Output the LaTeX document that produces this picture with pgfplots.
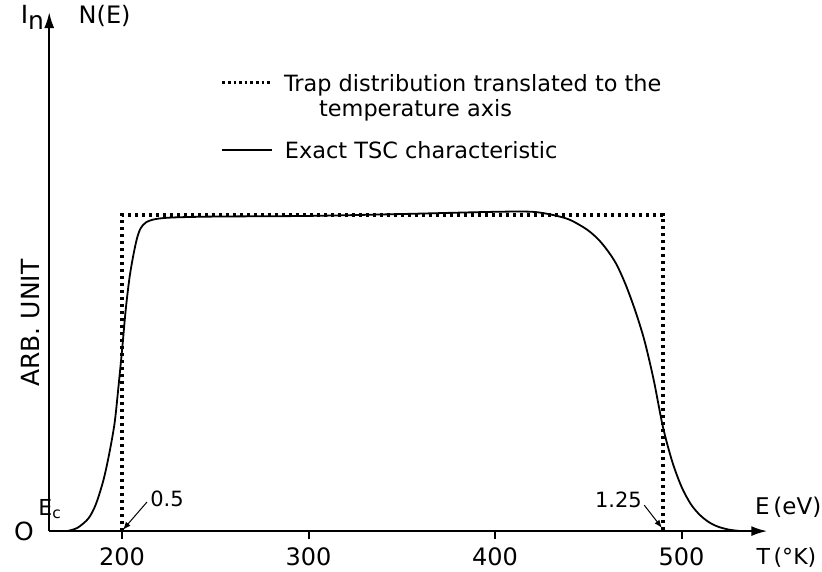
\documentclass[border=0pt]{standalone}
\usepackage{fontspec}
\setmainfont{DejaVu Sans}
\usepackage{pgfplots}
\pgfplotsset{compat=1.18}
\usetikzlibrary{arrows.meta}

\begin{document}
\begin{tikzpicture}
\begin{axis}[
    scale only axis,
    width=359pt,
    height=259.5pt,
    xmin=161, xmax=546,
    ymin=0, ymax=1.642,
    axis lines=left,
    axis line style={line width=1.1pt, -{Latex[length=8pt,width=5pt]}},
    xtick={200,300,400,500},
    ytick=\empty,
    tick align=outside,
    major tick length=4pt,
    tick style={line width=1pt, black},
    xticklabel style={font=\fontsize{12}{14}\selectfont, yshift=-1pt, overlay},
    /pgf/number format/assume math mode=true,
    clip=false,
]

% trap distribution (dotted rectangle)
\addplot[black, line width=1.8pt, dash pattern=on 1.6pt off 1.9pt] coordinates {
    (200,0) (200,1) (490,1) (490,0)
};

% exact TSC characteristic
\addplot[black, line width=0.9pt, smooth, tension=0.5] coordinates {
    (170.5,0) (176,0.01) (182,0.04) (186,0.085) (190,0.16) (193,0.24)
    (196,0.34) (198,0.45) (200,0.57) (202,0.70) (204,0.80) (206,0.87)
    (208,0.925) (210,0.958) (213,0.977) (218,0.987) (227,0.992)
    (250,0.995) (300,0.997) (350,1.003) (400,1.01) (420,1.01)
    (431,1.0) (440,0.985) (449,0.955) (455,0.925) (460,0.89)
    (465,0.845) (470,0.78) (475,0.70) (480,0.605) (485,0.48)
    (490,0.33) (495,0.22) (500,0.14) (505,0.085) (510,0.05)
    (515,0.027) (520,0.013) (526,0.004) (532,0)
};

% page frame
\path (axis cs:134.6,-0.1266) rectangle (axis cs:575.3,1.68);

% axis labels
\begin{scope}[every node/.append style={overlay}]
\node[anchor=east, font=\fontsize{12.5}{14}\selectfont, inner sep=1pt] at (axis cs:159.5,1.625) {I\raisebox{-3pt}{n}};
\node[anchor=west, font=\fontsize{12}{14}\selectfont] at (axis cs:173,1.63) {N(E)};
\node[rotate=90, font=\fontsize{12.5}{14}\selectfont] at (axis cs:151.2,0.658) {ARB. UNIT};
\node[font=\fontsize{12.5}{14}\selectfont] at (axis cs:147.4,0) {O};
\node[font=\fontsize{11}{13}\selectfont] at (axis cs:161.5,0.07) {E\textsubscript{c}};
\node[anchor=west, inner sep=0pt, font=\fontsize{11.5}{13}\selectfont] at (axis cs:539.2,0.076) {E\,(eV)};
\node[anchor=west, inner sep=0pt, font=\fontsize{11}{13}\selectfont] at (axis cs:540,-0.085) {T\,(°K)};
\end{scope}

% energy marks
\node[anchor=west, inner sep=1pt, font=\fontsize{10.5}{12}\selectfont] at (axis cs:213.9,0.101) {0.5};
\draw[-{Latex[length=4pt,width=3pt]}, line width=0.5pt] (axis cs:213.4,0.092) -- (axis cs:200.5,0.004);
\node[anchor=east, inner sep=1pt, font=\fontsize{10.5}{12}\selectfont] at (axis cs:480,0.098) {1.25};
\draw[-{Latex[length=4pt,width=3pt]}, line width=0.5pt] (axis cs:480,0.082) -- (axis cs:489.5,0.01);

% legend
\draw[black, line width=1.6pt, dash pattern=on 1.3pt off 1.5pt] (axis cs:253.8,1.418) -- (axis cs:280.6,1.418);
\node[anchor=west, font=\fontsize{11.2}{13}\selectfont] at (axis cs:283.1,1.411) {Trap distribution translated to the};
\node[anchor=west, font=\fontsize{11.2}{13}\selectfont] at (axis cs:301.9,1.332) {temperature axis};
\draw[black, line width=0.7pt] (axis cs:253.8,1.206) -- (axis cs:280.6,1.206);
\node[anchor=west, font=\fontsize{11.2}{13}\selectfont] at (axis cs:283.6,1.206) {Exact TSC characteristic};

\end{axis}
\end{tikzpicture}
\end{document}
